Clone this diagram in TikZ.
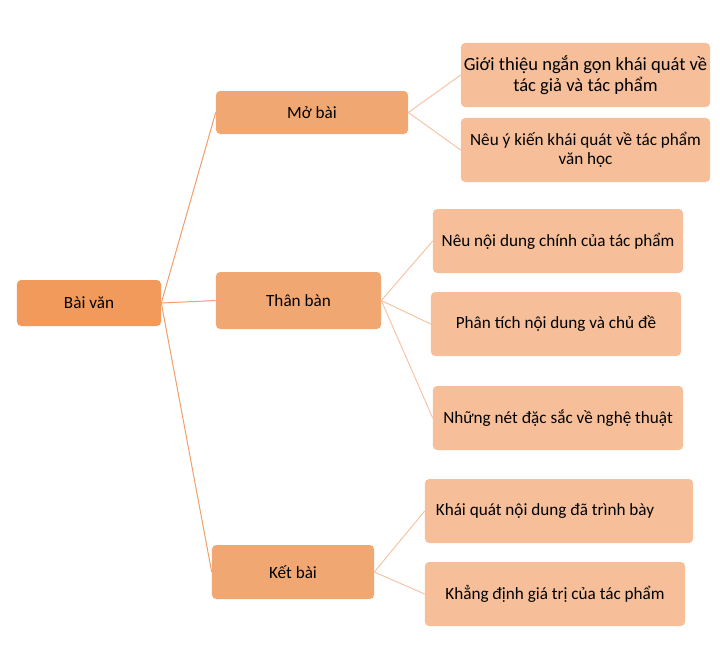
\documentclass[tikz,border=0pt]{standalone}
\usepackage{fontspec}
\setmainfont{Carlito}
\usepackage{tikz}
\definecolor{rootfill}{HTML}{F19A5C}
\definecolor{midfill}{HTML}{F1A772}
\definecolor{leaffill}{HTML}{F6BF9A}
\definecolor{rootline}{HTML}{F29D68}
\definecolor{leafline}{HTML}{F7C3A5}

\begin{document}
\begin{tikzpicture}[x=0.025cm, y=-0.025cm,
  box/.style={rectangle, rounded corners=3pt, inner sep=0pt, align=center,
    font=\fontsize{12.2}{14.5}\selectfont},
  rootbox/.style={box, fill=rootfill},
  midbox/.style={box, fill=midfill},
  leafbox/.style={box, fill=leaffill, minimum height=1.6cm},
  rootlink/.style={draw=rootline, line width=0.7pt},
  leaflink/.style={draw=leafline, line width=0.7pt}]

\useasboundingbox (0,0) rectangle (720,653);

\node[rootbox, minimum width=3.6cm, minimum height=1.15cm] (bv) at (89,303) {Bài văn};

\node[midbox, minimum width=4.8cm, minimum height=1.075cm] (mb) at (312,112.5) {Mở bài};
\node[midbox, minimum width=4.125cm, minimum height=1.425cm] (tb) at (298.5,300.5) {Thân bàn};
\node[midbox, minimum width=4.05cm, minimum height=1.35cm] (kb) at (293,572) {Kết bài};

\node[leafbox, minimum width=6.225cm, font=\fontsize{13.2}{15}\selectfont] (gt) at (585.5,75) {Giới thiệu ngắn gọn khái quát về\\tác giả và tác phẩm};
\node[leafbox, minimum width=6.225cm, font=\fontsize{12.2}{13.5}\selectfont] (yk) at (585.5,150) {Nêu ý kiến khái quát về tác phẩm\\văn học};

\node[leafbox, minimum width=6.25cm] (nd) at (558,241) {Nêu nội dung chính của tác phẩm};
\node[leafbox, minimum width=6.25cm] (pt) at (556,324) {Phân tích nội dung và chủ đề};
\node[leafbox, minimum width=6.25cm] (nt) at (558,418) {Những nét đặc sắc về nghệ thuật};

\node[leafbox, minimum width=6.7cm] (kq) at (559,511) {Khái quát nội dung đã trình bày\hspace*{0.7cm}};
\node[leafbox, minimum width=6.5cm] (kd) at (555,594) {Khẳng định giá trị của tác phẩm};

% root to sections
\draw[rootlink] (bv.east) -- (mb.west);
\draw[rootlink] (bv.east) -- (tb.west);
\draw[rootlink] (bv.east) -- (kb.west);

% sections to details
\draw[leaflink] (mb.east) -- (gt.west);
\draw[leaflink] (mb.east) -- (yk.west);
\draw[leaflink] (tb.east) -- (nd.west);
\draw[leaflink] (tb.east) -- (pt.west);
\draw[leaflink] (tb.east) -- (nt.west);
\draw[leaflink] (kb.east) -- (kq.west);
\draw[leaflink] (kb.east) -- (kd.west);

\end{tikzpicture}
\end{document}
